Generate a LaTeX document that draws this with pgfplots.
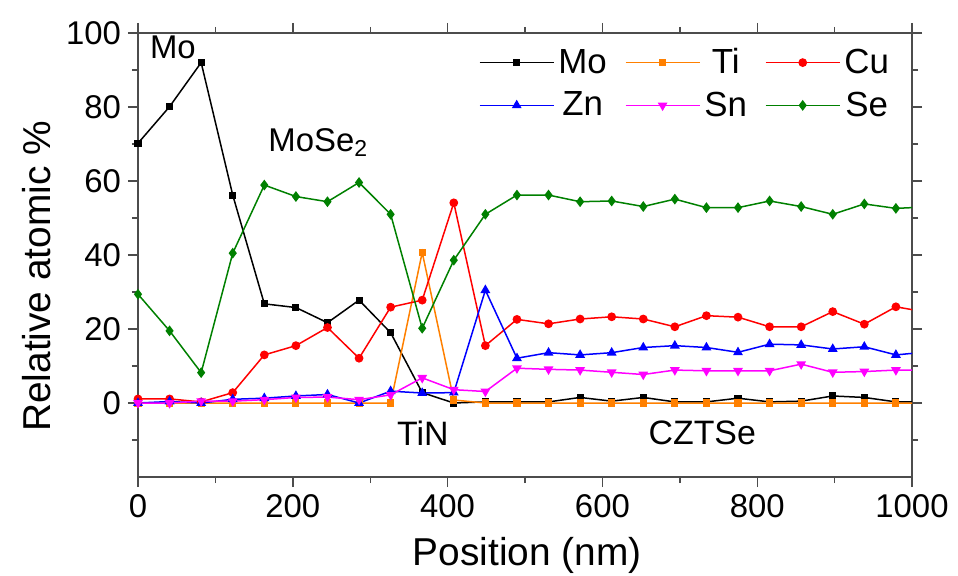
\documentclass[border=0pt]{standalone}
\usepackage{pgfplots}
\pgfplotsset{compat=1.18}
\usepackage{fontspec}
\setmainfont{Liberation Sans}
\definecolor{cMo}{RGB}{0,0,0}
\definecolor{cTi}{RGB}{255,128,0}
\definecolor{cCu}{RGB}{255,0,0}
\definecolor{cZn}{RGB}{0,0,255}
\definecolor{cSn}{RGB}{255,0,255}
\definecolor{cSe}{RGB}{0,128,0}
\begin{document}
\begin{tikzpicture}
\useasboundingbox (-69bp,-49.5bp) rectangle (410bp,238.5bp);
\begin{axis}[
  at={(0,0)}, anchor=south west,
  scale only axis,
  width=387bp, height=222bp,
  xmin=0, xmax=1000, ymin=-20, ymax=100,
  xtick={0,200,...,1000}, minor xtick={100,300,...,900},
  ytick={0,20,...,100}, minor ytick={-10,10,...,90},
  tick align=outside,
  major tick length=5bp, minor tick length=3bp,
  axis line style={line width=1bp, black!70},
  every tick/.style={line width=0.7bp, black!70},
  /pgf/number format/assume math mode=true,
  /pgf/number format/1000 sep={},
  tick label style={font=\fontsize{16.5}{16.5}\selectfont},
  xlabel={Position (nm)},
  ylabel={Relative atomic \%},
  xlabel style={font=\fontsize{19.5}{19.5}\selectfont, at={(axis description cs:0.503,0)}, anchor=center, yshift=-39bp},
  ylabel style={font=\fontsize{19.5}{19.5}\selectfont, at={(axis description cs:-0.1305,0.452)}, anchor=center, rotate=0},
  legend columns=3,
  legend style={draw=none, fill=none, at={(0.976,0.975)}, anchor=north east,
    font=\fontsize{17.5}{17.5}\selectfont, inner sep=0bp,
    /tikz/every even column/.append style={column sep=7bp},
    /tikz/every odd column/.append style={column sep=0bp},
    row sep=3.5bp},
  legend image code/.code={\draw[mark repeat=2,mark phase=2] plot coordinates {(0bp,0bp) (18.5bp,0bp) (37bp,0bp)};},
  every axis plot/.append style={line width=0.75bp},
  clip=true,
]
\addplot[color=cMo, mark=square*, mark size=1.4bp] coordinates {
(0,70.2) (40.8,80.1) (81.6,92) (122.4,56.2) (163.2,26.8) (204,25.8) (244.8,21.7) (285.6,27.8) (326.4,19) (367.2,2.8) (408,0) (448.8,0.3) (489.6,0.3) (530.4,0.3) (571.2,1.5) (612,0.5) (652.8,1.5) (693.6,0.3) (734.4,0.3) (775.2,1.3) (816,0.3) (856.8,0.5) (897.6,1.9) (938.4,1.5) (979.2,0.3) (1020,0.3)};
\addlegendentry{Mo}
\addplot[color=cTi, mark=square*, mark size=1.4bp] coordinates {
(0,0) (40.8,0) (81.6,0) (122.4,0) (163.2,0) (204,0) (244.8,0) (285.6,0) (326.4,0) (367.2,40.7) (408,0.8) (448.8,0) (489.6,0) (530.4,0) (571.2,0) (612,0) (652.8,0) (693.6,0) (734.4,0) (775.2,0) (816,0) (856.8,0) (897.6,0) (938.4,0) (979.2,0) (1020,0)};
\addlegendentry{Ti}
\addplot[color=cCu, mark=*, mark size=1.8bp] coordinates {
(0,1.1) (40.8,1.1) (81.6,0.3) (122.4,2.8) (163.2,13) (204,15.5) (244.8,20.4) (285.6,12.1) (326.4,25.9) (367.2,27.8) (408,54.1) (448.8,15.5) (489.6,22.6) (530.4,21.4) (571.2,22.7) (612,23.3) (652.8,22.7) (693.6,20.6) (734.4,23.6) (775.2,23.2) (816,20.6) (856.8,20.6) (897.6,24.7) (938.4,21.3) (979.2,26) (1020,24.5)};
\addlegendentry{Cu}
\addplot[color=cZn, mark=triangle*, mark size=2.1bp] coordinates {
(0,0) (40.8,0.4) (81.6,0) (122.4,1) (163.2,1.3) (204,1.9) (244.8,2.3) (285.6,0) (326.4,3.2) (367.2,2.7) (408,2.8) (448.8,30.5) (489.6,12.1) (530.4,13.6) (571.2,13) (612,13.6) (652.8,15) (693.6,15.5) (734.4,15) (775.2,13.7) (816,15.9) (856.8,15.7) (897.6,14.6) (938.4,15.2) (979.2,13) (1020,13.8)};
\addlegendentry{Zn}
\addplot[color=cSn, mark=triangle*, mark options={rotate=180}, mark size=2.1bp] coordinates {
(0,0) (40.8,0) (81.6,0.5) (122.4,0.5) (163.2,0.9) (204,1.5) (244.8,1.6) (285.6,0.9) (326.4,2.2) (367.2,6.8) (408,3.6) (448.8,3.1) (489.6,9.4) (530.4,9.1) (571.2,8.9) (612,8.3) (652.8,7.7) (693.6,8.9) (734.4,8.7) (775.2,8.7) (816,8.7) (856.8,10.5) (897.6,8.3) (938.4,8.5) (979.2,8.9) (1020,8.9)};
\addlegendentry{Sn}
\addplot[color=cSe, mark=diamond*, mark size=2.1bp] coordinates {
(0,29.4) (40.8,19.5) (81.6,8.2) (122.4,40.5) (163.2,58.9) (204,55.8) (244.8,54.4) (285.6,59.6) (326.4,51) (367.2,20.2) (408,38.6) (448.8,51) (489.6,56.2) (530.4,56.2) (571.2,54.4) (612,54.6) (652.8,53.1) (693.6,55.1) (734.4,52.8) (775.2,52.8) (816,54.6) (856.8,53.1) (897.6,51) (938.4,53.8) (979.2,52.6) (1020,53)};
\addlegendentry{Se}
\node[font=\fontsize{16.5}{16.5}\selectfont, anchor=north west, inner sep=0pt] at (axis cs:15,99.3) {Mo};
\node[font=\fontsize{16.5}{16.5}\selectfont, anchor=west, inner sep=0pt] at (axis cs:168,70.5) {MoSe\textsubscript{2}};
\node[font=\fontsize{17}{17}\selectfont, anchor=center, inner sep=0pt] at (axis cs:368,-8.1) {TiN};
\node[font=\fontsize{17}{17}\selectfont, anchor=center, inner sep=0pt] at (axis cs:729,-8.1) {CZTSe};
\end{axis}
\end{tikzpicture}
\end{document}
